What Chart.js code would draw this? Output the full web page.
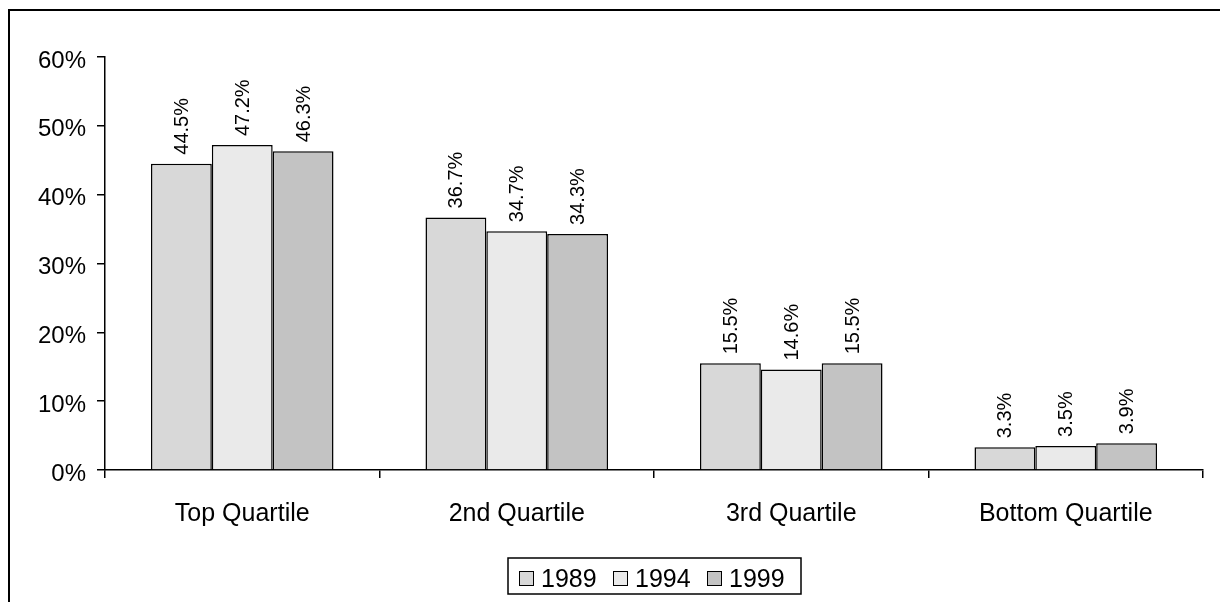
<!DOCTYPE html>
<html>
<head>
<meta charset="utf-8">
<script src="https://cdn.jsdelivr.net/npm/chart.js@4.4.0/dist/chart.umd.min.js"></script>
<style>
html,body{margin:0;padding:0;background:#fff;}
#wrap{position:relative;width:1220px;height:602px;}
canvas{display:block;}
</style>
</head>
<body>
<div id="wrap"><canvas id="c" width="1220" height="602"></canvas></div>
<script>
const categories = ["Top Quartile", "2nd Quartile", "3rd Quartile", "Bottom Quartile"];
const seriesLabels = ["1989", "1994", "1999"];
const values1989 = [44.5, 36.7, 15.5, 3.3];
const values1994 = [47.2, 34.7, 14.6, 3.5];
const values1999 = [46.3, 34.3, 15.5, 3.9];
const seriesColors = ["#d8d8d8", "#eaeaea", "#c3c3c3"];
const yTicks = [0, 10, 20, 30, 40, 50, 60];

const FONT = '"Liberation Sans", Arial, sans-serif';

const framePlugin = {
  id: 'frame',
  beforeDraw(chart) {
    const ctx = chart.ctx;
    ctx.save();
    ctx.fillStyle = '#fff';
    ctx.fillRect(0, 0, chart.width, chart.height);
    ctx.strokeStyle = '#000';
    ctx.lineWidth = 2;
    ctx.beginPath();
    ctx.moveTo(9, chart.height + 5);
    ctx.lineTo(9, 10);
    ctx.lineTo(chart.width + 5, 10);
    ctx.stroke();
    ctx.restore();
  }
};

const labelPlugin = {
  id: 'barLabels',
  afterDatasetsDraw(chart) {
    const ctx = chart.ctx;
    ctx.save();
    ctx.fillStyle = '#000';
    ctx.font = '20px ' + FONT;
    ctx.textAlign = 'left';
    ctx.textBaseline = 'middle';
    chart.data.datasets.forEach((ds, i) => {
      const meta = chart.getDatasetMeta(i);
      meta.data.forEach((el, j) => {
        ctx.save();
        ctx.translate(el.x + 1, el.y - 9);
        ctx.rotate(-Math.PI / 2);
        ctx.fillText(ds.data[j].toFixed(1) + '%', 0, 0);
        ctx.restore();
      });
    });
    ctx.restore();
  }
};

const legendPlugin = {
  id: 'boxLegend',
  afterDraw(chart) {
    const ctx = chart.ctx;
    ctx.save();
    const left = 508, top = 558, right = 801, bottom = 594;
    ctx.strokeStyle = '#000';
    ctx.lineWidth = 1.5;
    ctx.strokeRect(left, top, right - left, bottom - top);
    ctx.font = '25px ' + FONT;
    ctx.textBaseline = 'middle';
    ctx.textAlign = 'left';
    chart.data.datasets.forEach((ds, i) => {
      const x = 519 + i * 94;
      const cy = 578;
      ctx.fillStyle = ds.backgroundColor;
      ctx.fillRect(x, cy - 7, 15, 15);
      ctx.strokeStyle = '#000';
      ctx.lineWidth = 1;
      ctx.strokeRect(x + 0.5, cy - 6.5, 14, 14);
      ctx.fillStyle = '#000';
      ctx.fillText(ds.label, x + 22, cy + 2);
    });
    ctx.restore();
  }
};

const datasets = [values1989, values1994, values1999].map((vals, i) => ({
  label: seriesLabels[i],
  data: vals,
  backgroundColor: seriesColors[i],
  borderColor: '#000',
  borderWidth: 1.5,
  borderSkipped: 'bottom',
  barPercentage: 1.0,
  categoryPercentage: 0.665
}));

new Chart(document.getElementById('c'), {
  type: 'bar',
  data: { labels: categories, datasets },
  options: {
    responsive: false,
    animation: false,
    devicePixelRatio: 1,
    layout: { padding: { left: 0, top: 57, right: 17, bottom: 0 } },
    plugins: { legend: { display: false }, tooltip: { enabled: false } },
    scales: {
      x: {
        grid: { display: true, drawOnChartArea: false, color: '#000', tickLength: 8, offset: true, lineWidth: 1.5 },
        border: { display: true, color: '#000', width: 1.5 },
        ticks: { color: '#000', font: { size: 25, family: FONT }, padding: 21, maxRotation: 0 },
        afterFit(scale) { scale.height = 132; }
      },
      y: {
        min: 0, max: 60,
        afterBuildTicks(scale) { scale.ticks = yTicks.map(v => ({ value: v })); },
        grid: { display: true, drawOnChartArea: false, color: '#000', tickLength: 8, lineWidth: 1.5 },
        border: { display: true, color: '#000', width: 1.5 },
        ticks: { color: '#000', font: { size: 24, family: FONT }, padding: 11, labelOffset: 4, callback: v => v + '%' },
        afterFit(scale) { scale.width = 105; }
      }
    }
  },
  plugins: [framePlugin, labelPlugin, legendPlugin]
});
</script>
</body>
</html>
